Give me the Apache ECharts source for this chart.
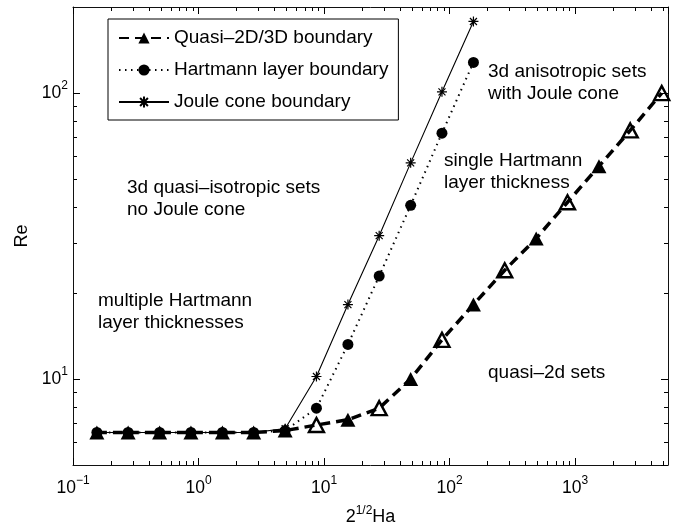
<!DOCTYPE html>
<html>
<head>
<meta charset="utf-8">
<script src="https://cdn.jsdelivr.net/npm/echarts@6/dist/echarts.min.js"></script>
<style>
  html, body { margin: 0; padding: 0; background: #fff; }
  #main { width: 686px; height: 531px; }
</style>
</head>
<body>
<div id="main"></div>
<script>
// x = 2^(1/2) Ha, same sampling for all three boundaries
const haValues = [0.155, 0.275, 0.49, 0.87, 1.55, 2.75, 4.9, 8.7, 15.5, 27.5, 49, 87, 155, 275, 490, 870, 1550, 2750, 4900];
const quasiRe = [6.5, 6.5, 6.5, 6.5, 6.5, 6.5, 6.6, 6.9, 7.2, 7.9, 10, 13.7, 18.2, 24, 31, 41.5, 55.5, 74, 100];
const hartmannRe = [6.5, 6.5, 6.5, 6.5, 6.5, 6.5, 6.6, 7.9, 13.2, 22.9, 40.5, 72.4, 128];
const jouleRe = [6.5, 6.5, 6.5, 6.5, 6.5, 6.5, 6.7, 10.2, 18.2, 31.7, 57, 101, 178];
const seriesNames = ['Quasi–2D/3D boundary', 'Hartmann layer boundary', 'Joule cone boundary'];
// triangles that come out unfilled in the print
const hollowIdx = [7, 9, 11, 13, 15, 17, 18];
const xRange = [0.1, 5500];
const yRange = [5, 200];
const regionTexts = [
    '3d quasi–isotropic sets\nno Joule cone',
    'multiple Hartmann\nlayer thicknesses',
    'single Hartmann\nlayer thickness',
    '3d anisotropic sets\nwith Joule cone',
    'quasi–2d sets'
];

const FONT = "'Liberation Sans', Arial, Helvetica, sans-serif";
// top-left corner of each region text, in px
const textPos = [[127, 177], [98, 290], [444, 150], [488, 61], [488, 362]];

const chart = echarts.init(document.getElementById('main'));

function pair(xs, ys) {
    return ys.map((y, i) => [xs[i], y]);
}

function powLabel(v) {
    const e = Math.round(Math.log10(v));
    return '{b|10}{e|' + (e < 0 ? '−' + (-e) : e) + '}';
}

const labelRich = {
    b: { fontSize: 17.5, lineHeight: 26, fontFamily: FONT, color: '#000' },
    e: { fontSize: 12, verticalAlign: 'top', fontFamily: FONT, color: '#000' }
};

const axisBase = {
    type: 'log',
    logBase: 10,
    axisLine: { show: true, lineStyle: { color: '#111', width: 1 } },
    axisTick: { show: true, inside: true, length: 7, lineStyle: { color: '#000', width: 1 } },
    splitLine: { show: false },
    minorTick: { show: false }
};

const quasiData = pair(haValues, quasiRe).map((p, i) => {
    if (hollowIdx.indexOf(i) >= 0) {
        return { value: p, itemStyle: { color: 'rgba(0,0,0,0)', borderColor: '#000', borderWidth: 2.4 } };
    }
    return p;
});

const starPath = 'path://M5,0L5,10M0,5L10,5M1.5,1.5L8.5,8.5M1.5,8.5L8.5,1.5';

const option = {
    animation: false,
    backgroundColor: '#fff',
    grid: { left: 73, right: 18, top: 7, bottom: 64 },
    legend: {
        data: seriesNames,
        orient: 'vertical',
        left: 108,
        top: 19,
        padding: [8, 10, 7, 10],
        itemGap: 10,
        itemWidth: 50,
        itemHeight: 14,
        borderColor: '#000',
        borderWidth: 1,
        borderRadius: 0,
        backgroundColor: '#fff',
        textStyle: { fontSize: 19, lineHeight: 22, fontFamily: FONT, color: '#000' }
    },
    xAxis: [
        Object.assign({}, axisBase, {
            position: 'bottom',
            min: xRange[0], max: xRange[1],
            name: '{b|2}{e|1/2}{b|Ha}',
            nameLocation: 'middle',
            nameGap: 40,
            nameTextStyle: {
                rich: {
                    b: { fontSize: 18, lineHeight: 24, fontFamily: FONT, color: '#000' },
                    e: { fontSize: 12, verticalAlign: 'top', fontFamily: FONT, color: '#000' }
                }
            },
            axisLabel: {
                margin: 10, showMinLabel: true, showMaxLabel: false,
                formatter: powLabel, rich: labelRich
            }
        }),
        Object.assign({}, axisBase, {
            position: 'top',
            min: xRange[0], max: xRange[1],
            axisLabel: { show: false }
        })
    ],
    yAxis: [
        Object.assign({}, axisBase, {
            position: 'left',
            min: yRange[0], max: yRange[1],
            name: 'Re',
            nameLocation: 'middle',
            nameGap: 34,
            nameTextStyle: { fontSize: 18, fontFamily: FONT, color: '#000' },
            axisLabel: {
                margin: 5, showMinLabel: false, showMaxLabel: false,
                formatter: powLabel, rich: labelRich
            }
        }),
        Object.assign({}, axisBase, {
            position: 'right',
            min: yRange[0], max: yRange[1],
            axisLabel: { show: false }
        })
    ],
    series: [
        {
            name: seriesNames[0],
            type: 'line',
            z: 4,
            data: quasiData,
            showAllSymbol: true,
            symbol: 'triangle',
            symbolSize: [15, 14],
            itemStyle: { color: '#000' },
            lineStyle: { color: '#000', width: 3.5, type: [10, 6] }
        },
        {
            name: seriesNames[1],
            type: 'line',
            z: 3,
            data: pair(haValues, hartmannRe),
            showAllSymbol: true,
            symbol: 'circle',
            symbolSize: 11,
            itemStyle: { color: '#000' },
            lineStyle: { color: '#000', width: 2, type: [1.5, 4.5] }
        },
        {
            name: seriesNames[2],
            type: 'line',
            z: 2,
            data: pair(haValues, jouleRe),
            showAllSymbol: true,
            symbol: starPath,
            symbolSize: 10,
            itemStyle: { color: '#000', borderColor: '#000', borderWidth: 1.2 },
            lineStyle: { color: '#000', width: 1.1 }
        }
    ]
};

chart.setOption(option);

// minor ticks (2..9 per decade) on all four sides, plus region texts
function minorValues(range) {
    const out = [];
    for (let d = Math.floor(Math.log10(range[0])); d <= Math.ceil(Math.log10(range[1])); d++) {
        for (let m = 2; m <= 9; m++) {
            const v = m * Math.pow(10, d);
            if (v > range[0] && v < range[1]) out.push(v);
        }
    }
    return out;
}

const plotLeft = chart.convertToPixel({ xAxisIndex: 0 }, xRange[0]);
const plotRight = chart.convertToPixel({ xAxisIndex: 0 }, xRange[1]);
const plotBottom = chart.convertToPixel({ yAxisIndex: 0 }, yRange[0]);
const plotTop = chart.convertToPixel({ yAxisIndex: 0 }, yRange[1]);
const tickLen = 4;
const tickStyle = { stroke: '#000', lineWidth: 1 };
const graphics = [];

minorValues(xRange).forEach(v => {
    const px = Math.round(chart.convertToPixel({ xAxisIndex: 0 }, v)) + 0.5;
    graphics.push({ type: 'line', silent: true, shape: { x1: px, y1: plotBottom, x2: px, y2: plotBottom - tickLen }, style: tickStyle });
    graphics.push({ type: 'line', silent: true, shape: { x1: px, y1: plotTop, x2: px, y2: plotTop + tickLen }, style: tickStyle });
});
minorValues(yRange).forEach(v => {
    const py = Math.round(chart.convertToPixel({ yAxisIndex: 0 }, v)) + 0.5;
    graphics.push({ type: 'line', silent: true, shape: { x1: plotLeft, y1: py, x2: plotLeft + tickLen, y2: py }, style: tickStyle });
    graphics.push({ type: 'line', silent: true, shape: { x1: plotRight, y1: py, x2: plotRight - tickLen, y2: py }, style: tickStyle });
});

regionTexts.forEach((t, i) => {
    graphics.push({
        type: 'text',
        silent: true,
        x: textPos[i][0],
        y: textPos[i][1],
        z: 5,
        style: {
            text: t,
            font: '19px ' + FONT,
            lineHeight: 22,
            fill: '#000',
            textAlign: 'left',
            textVerticalAlign: 'top'
        }
    });
});

chart.setOption({ graphic: graphics });
</script>
</body>
</html>
